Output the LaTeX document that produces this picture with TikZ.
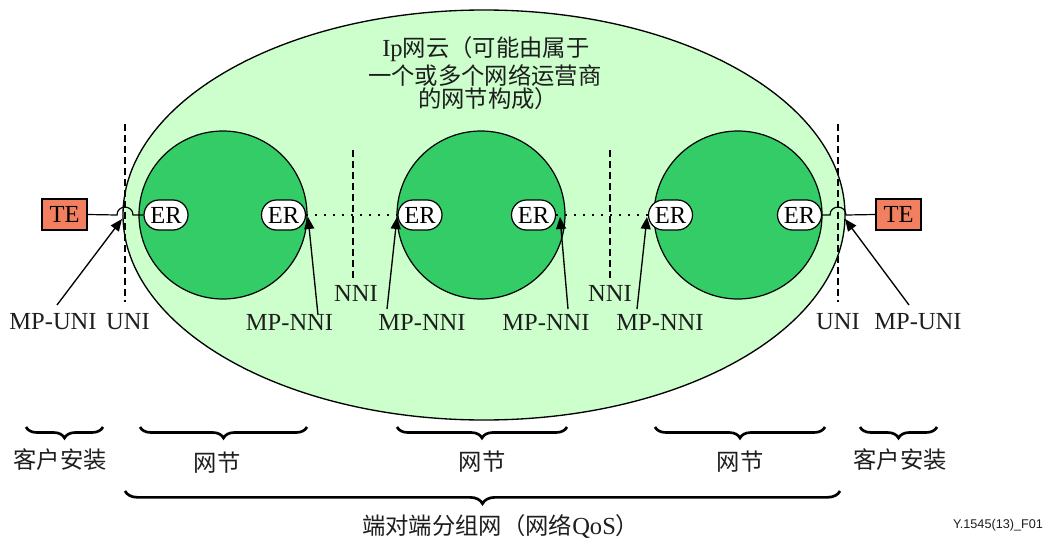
\documentclass[tikz,border=0pt]{standalone}
\usepackage{fontspec}
\setmainfont{Liberation Serif}
\newfontfamily\cjk{Noto Sans CJK SC}
\newfontfamily\lsans{Liberation Sans}
\usetikzlibrary{arrows.meta,shapes.misc,shapes.geometric,decorations.pathreplacing}
\definecolor{cloud}{RGB}{204,255,204}
\definecolor{netg}{RGB}{51,204,102}
\definecolor{tecol}{RGB}{242,128,96}
\definecolor{ink}{RGB}{30,30,30}
\begin{document}
\begin{tikzpicture}[x=0.75pt,y=-0.75pt,
  lat/.style={font=\fontsize{18.4}{20}\selectfont, inner sep=0, text=ink},
  zh/.style={font=\cjk\fontsize{17.5}{20}\selectfont, inner sep=0, text=ink},
  erbox/.style={draw, fill=white, rounded rectangle, minimum width=33pt, minimum height=22.5pt, inner sep=0, line width=0.9pt, font=\fontsize{18.4}{20}\selectfont},
  tebox/.style={draw, fill=tecol, minimum width=33.75pt, minimum height=23.25pt, inner sep=0, line width=0.9pt, font=\fontsize{18.4}{20}\selectfont},
  netcirc/.style={draw, circle, fill=netg, minimum size=126pt, inner sep=0, line width=0.9pt},
  vdash/.style={line width=1.5pt, dash pattern=on 5.25pt off 3pt},
  dotline/.style={line width=1.5pt, dash pattern=on 1.5pt off 5.25pt},
  arr/.style={line width=1pt, -{Triangle[length=9pt,width=7.5pt]}},
  brc/.style={decorate, decoration={brace, amplitude=8.25pt}, line width=2pt},
  link/.style={line width=0.9pt},
]
\useasboundingbox (0,0) rectangle (1064,539);

% cloud
\node[draw, ellipse, fill=cloud, minimum width=541.5pt, minimum height=307.5pt, inner sep=0, line width=1pt] (cloud) at (484,215) {};

% network circles
\node[netcirc] (n1) at (223,215) {};
\node[netcirc] (n2) at (481,215) {};
\node[netcirc] (n3) at (738,215) {};

% dashed boundaries
\draw[vdash] (125,124) -- (125,302);
\draw[vdash] (353,150) -- (353,279);
\draw[vdash] (610,150) -- (610,279);
\draw[vdash] (838,124) -- (838,302);

% title
\node[anchor=west, lat] (t1) at (382,49) {Ip{\cjk\fontsize{17.5}{20}\selectfont 网云（可能由属于}};
\node[anchor=west, zh] (t2) at (368,76) {一个或多个网络运营商};
\node[anchor=west, zh] (t3) at (418,99) {的网节构成）};

% ER nodes
\node[erbox] (er1) at (166,215) {ER};
\node[erbox] (er2) at (283.5,215) {ER};
\node[erbox] (er3) at (420,215) {ER};
\node[erbox] (er4) at (533.5,215) {ER};
\node[erbox] (er5) at (670.5,215) {ER};
\node[erbox] (er6) at (799.5,215) {ER};

% TE nodes
\node[tebox] (te1) at (64.5,214.5) {TE};
\node[tebox] (te2) at (898.5,214.5) {TE};

% links with hops
\draw[link] (te1.east) -- (117,215) .. controls (117,204.5) and (133,204.5) .. (133,215) -- (er1.west);
\draw[link] (er6.east) -- (830,215) .. controls (830,204.5) and (846,204.5) .. (846,215) -- (te2.west);

% dotted NNI links
\draw[dotline] (er2.east) -- (er3.west);
\draw[dotline] (er4.east) -- (er5.west);

% labels
\node[lat] (l1) at (53,322) {MP-UNI};
\node[lat] (l2) at (128,322) {UNI};
\node[lat] (l3) at (289.5,322) {MP-NNI};
\node[lat] (l4) at (356,293) {NNI};
\node[lat] (l5) at (422,322) {MP-NNI};
\node[lat] (l6) at (546,322) {MP-NNI};
\node[lat] (l7) at (610,293) {NNI};
\node[lat] (l8) at (660,322) {MP-NNI};
\node[lat] (l9) at (838,322) {UNI};
\node[lat] (l10) at (918,322) {MP-UNI};

% arrow endpoints
\coordinate (s1) at (57,305);   \coordinate (e1) at (122,219);
\coordinate (s2) at (318,315);  \coordinate (e2) at (308,217);
\coordinate (s3) at (387,309);  \coordinate (e3) at (397,217);
\coordinate (s4) at (568,309);  \coordinate (e4) at (560,217);
\coordinate (s5) at (637,309);  \coordinate (e5) at (647,217);
\coordinate (s6) at (909,305);  \coordinate (e6) at (845,219);
\draw[arr] (s1) -- (e1);
\draw[arr] (s2) -- (e2);
\draw[arr] (s3) -- (e3);
\draw[arr] (s4) -- (e4);
\draw[arr] (s5) -- (e5);
\draw[arr] (s6) -- (e6);

% braces
\draw[brc] (103,427) -- (26,427);
\draw[brc] (307,427) -- (140,427);
\draw[brc] (567,427) -- (397,427);
\draw[brc] (825,427) -- (655,427);
\draw[brc] (937,427) -- (860,427);
\draw[brc, decoration={brace, amplitude=9.5pt}] (840,491) -- (125,491);

\node[zh] (b1) at (60,460) {客户安装};
\node[zh] (b2) at (217,463) {网节};
\node[zh] (b3) at (482,462) {网节};
\node[zh] (b4) at (740,462) {网节};
\node[zh] (b5) at (900,460) {客户安装};
\node[anchor=west, zh] (b6) at (362,526) {端对端分组网（网络{\fontspec{Liberation Serif}\fontsize{18.4}{20}\selectfont QoS}）};

\node[font=\lsans\fontsize{9.5}{10}\selectfont, inner sep=0, text=ink] (fig) at (998,525) {Y.1545(13)\_F01};
\end{tikzpicture}
\end{document}
